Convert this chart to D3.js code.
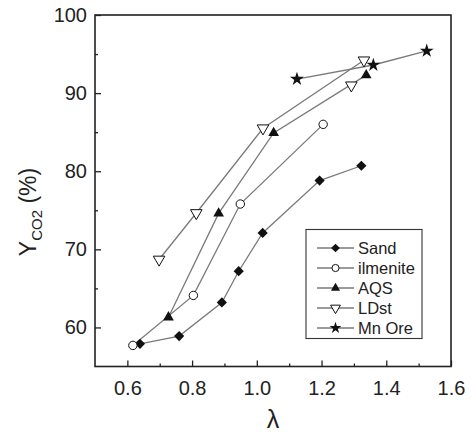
<!DOCTYPE html>
<html><head><meta charset="utf-8">
<script src="https://cdn.jsdelivr.net/npm/d3@7"></script>
<style>body{margin:0;background:#fff}svg{display:block}</style>
</head><body>
<svg id="c" width="471" height="436"></svg>
<script>
const seriesNames = ["Sand","ilmenite","AQS","LDst","Mn Ore"];
const sandX = [0.639,0.760,0.892,0.944,1.018,1.194,1.323];
const sandY = [57.9,58.9,63.2,67.2,72.1,78.8,80.7];
const ilmeniteX = [0.617,0.804,0.949,1.205];
const ilmeniteY = [57.7,64.1,75.8,86.0];
const aqsX = [0.727,0.882,1.052,1.338];
const aqsY = [61.3,74.6,84.9,92.3];
const ldstX = [0.698,0.813,1.019,1.331];
const ldstY = [68.7,74.65,85.5,94.2];
const ldstExtraX = [1.292];
const ldstExtraY = [91.0];
const mnX = [1.124,1.360,1.525];
const mnY = [91.8,93.6,95.4];
const xTicks = [0.6,0.8,1.0,1.2,1.4,1.6];
const xMinor = [0.7,0.9,1.1,1.3,1.5];
const yTicks = [60,70,80,90,100];
const yMinor = [65,75,85,95];

const svg = d3.select("#c");
const L=95,R=451,T=15,B=366.5;
const x = d3.scaleLinear([0.5,1.6],[L,R]);
const y = d3.scaleLinear([55,100],[B,T]);
const font = "'Liberation Sans', Arial, sans-serif";

const zip=(a,b)=>a.map((v,i)=>[v,b[i]]);
const series = [
 {name:"Sand", pts:zip(sandX,sandY), shape:"diamond"},
 {name:"ilmenite", pts:zip(ilmeniteX,ilmeniteY), shape:"circle"},
 {name:"AQS", pts:zip(aqsX,aqsY), shape:"up"},
 {name:"LDst", pts:zip(ldstX,ldstY), shape:"down", extra:zip(ldstExtraX,ldstExtraY)},
 {name:"Mn Ore", pts:zip(mnX,mnY), shape:"star"}
];

function marker(g, shape, cx, cy, scale){
  scale = scale||1;
  if(shape==="circle"){
    g.append("circle").attr("cx",cx).attr("cy",cy).attr("r",4.2*scale)
     .attr("fill","#fff").attr("stroke","#111").attr("stroke-width",1);
  } else if(shape==="diamond"){
    g.append("path").attr("d",d3.symbol(d3.symbolSquare,52*scale*scale)())
     .attr("transform",`translate(${cx},${cy}) rotate(45)`).attr("fill","#111");
  } else if(shape==="up"){
    g.append("path").attr("d",d3.symbol(d3.symbolTriangle,50*scale*scale)())
     .attr("transform",`translate(${cx},${cy})`).attr("fill","#111");
  } else if(shape==="down"){
    g.append("path").attr("d",d3.symbol(d3.symbolTriangle,58*scale*scale)())
     .attr("transform",`translate(${cx},${cy}) rotate(180)`).attr("fill","#fff")
     .attr("stroke","#111").attr("stroke-width",1);
  } else if(shape==="star"){
    g.append("path").attr("d",d3.symbol(d3.symbolStar,60*scale*scale)())
     .attr("transform",`translate(${cx},${cy})`).attr("fill","#111");
  }
}

// lines
const line = d3.line().x(d=>x(d[0])).y(d=>y(d[1]));
const gl = svg.append("g");
series.forEach(s=>{
  gl.append("path").attr("d",line(s.pts)).attr("fill","none")
    .attr("stroke","#7a7a7a").attr("stroke-width",1.3);
});
const gm = svg.append("g");
series.forEach(s=>{
  s.pts.forEach(p=>marker(gm,s.shape,x(p[0]),y(p[1])));
  (s.extra||[]).forEach(p=>marker(gm,s.shape,x(p[0]),y(p[1])));
});

// frame
svg.append("rect").attr("x",L).attr("y",T).attr("width",R-L).attr("height",B-T)
  .attr("fill","none").attr("stroke","#222").attr("stroke-width",1.6);

// axes with inward ticks
const ax = svg.append("g").attr("transform",`translate(0,${B})`)
  .call(d3.axisBottom(x).tickValues(xTicks).tickFormat(d3.format(".1f")).tickSizeInner(-6).tickSizeOuter(0).tickPadding(14));
ax.select(".domain").remove();
ax.selectAll("line").attr("stroke","#222").attr("stroke-width",1.3);
ax.selectAll("text").attr("font-family",font).attr("font-size",20).attr("fill","#222");
const axm = svg.append("g").attr("transform",`translate(0,${B})`)
  .call(d3.axisBottom(x).tickValues(xMinor).tickFormat("").tickSizeInner(-3).tickSizeOuter(0));
axm.select(".domain").remove();
axm.selectAll("line").attr("stroke","#222").attr("stroke-width",1.3);

const ay = svg.append("g").attr("transform",`translate(${L},0)`)
  .call(d3.axisLeft(y).tickValues(yTicks).tickSizeInner(-6).tickSizeOuter(0).tickPadding(8));
ay.select(".domain").remove();
ay.selectAll("line").attr("stroke","#222").attr("stroke-width",1.3);
ay.selectAll("text").attr("font-family",font).attr("font-size",20).attr("fill","#222");
const aym = svg.append("g").attr("transform",`translate(${L},0)`)
  .call(d3.axisLeft(y).tickValues(yMinor).tickFormat("").tickSizeInner(-3).tickSizeOuter(0));
aym.select(".domain").remove();
aym.selectAll("line").attr("stroke","#222").attr("stroke-width",1.3);

// axis titles
svg.append("text").attr("x",273).attr("y",428).attr("text-anchor","middle")
  .attr("font-family",font).attr("font-size",25).attr("fill","#222").text("λ");
const yt = svg.append("text").attr("transform","translate(36,212) rotate(-90)")
  .attr("text-anchor","middle").attr("font-family",font).attr("font-size",23).attr("fill","#222");
yt.append("tspan").text("Y");
yt.append("tspan").attr("font-size",15).attr("dy",6).text("CO2");
yt.append("tspan").attr("dy",-6).text(" (%)");

// legend
const lg = svg.append("g");
lg.append("rect").attr("x",306).attr("y",229.5).attr("width",116).attr("height",109)
  .attr("fill","#fff").attr("stroke","#333").attr("stroke-width",1.1);
series.forEach((s,i)=>{
  const cy = 248 + i*20;
  lg.append("line").attr("x1",317).attr("x2",354).attr("y1",cy).attr("y2",cy)
    .attr("stroke","#7a7a7a").attr("stroke-width",1.3);
  marker(lg,s.shape,335.5,cy,0.85);
  lg.append("text").attr("x",358).attr("y",cy+6).attr("font-family",font)
    .attr("font-size",16.5).attr("fill","#222").text(s.name);
});
</script>
</body></html>
